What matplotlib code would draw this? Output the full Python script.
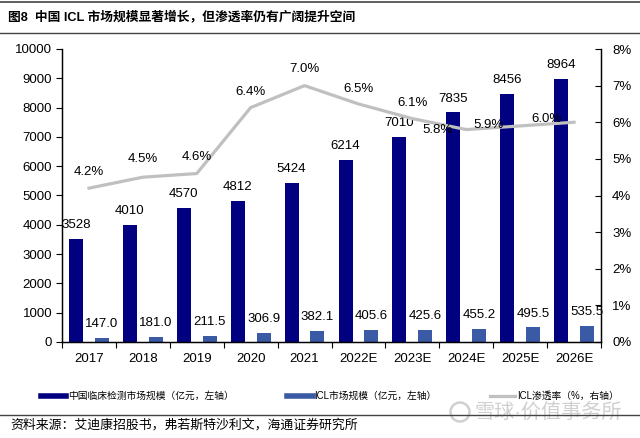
import matplotlib
matplotlib.use("Agg")
import matplotlib.pyplot as plt
from matplotlib.lines import Line2D
from matplotlib.patches import Ellipse
import numpy as np

plt.rcParams['font.family'] = ['Liberation Sans', 'Noto Sans CJK SC', 'DejaVu Sans']

years = ['2017', '2018', '2019', '2020', '2021', '2022E', '2023E', '2024E', '2025E', '2026E']
china_market = [3528, 4010, 4570, 4812, 5424, 6214, 7010, 7835, 8456, 8964]
icl_market = [147.0, 181.0, 211.5, 306.9, 382.1, 405.6, 425.6, 455.2, 495.5, 535.5]
icl_rate = [4.2, 4.5, 4.6, 6.4, 7.0, 6.5, 6.1, 5.8, 5.9, 6.0]

series_names = ['中国临床检测市场规模（亿元，左轴）', 'ICL市场规模（亿元，左轴）', 'ICL渗透率（%，右轴）']
title = '图8  中国 ICL 市场规模显著增长，但渗透率仍有广阔提升空间'
source = '资料来源：艾迪康招股书，弗若斯特沙利文，海通证券研究所'
watermark = '雪球·价值事务所'

c_dark = '#000080'
c_blue = '#3A5AA6'
c_gray = '#C0C0C0'

fig = plt.figure(figsize=(6.4, 4.38), dpi=100)
ax = fig.add_axes([62/640, 1-342/438, (601-62)/640, (342-49)/438])
ax2 = ax.twinx()

x = np.arange(len(years))
w = 0.26
off = 0.24
ax.bar(x - off, china_market, w, color=c_dark, zorder=2)
ax.bar(x + off, icl_market, w, color=c_blue, zorder=2)

for xi, v in zip(x, china_market):
    ax.annotate(f'{v}', (xi - off, v), xytext=(0, 10), textcoords='offset points',
                ha='center', va='center', fontsize=9.5, zorder=5)
for xi, v in zip(x, icl_market):
    ax.annotate(f'{v:.1f}', (xi + off, v), xytext=(0, 10), textcoords='offset points',
                ha='center', va='center', fontsize=9.5, zorder=5)

ax2.plot(x, icl_rate, color=c_gray, lw=2.3, zorder=3)
rate_offsets = [(0, 12), (0, 13), (0, 12), (0, 11), (0, 12), (0, 11), (0, 11), (-21, 0), (-23, 1), (-20, 2)]
for xi, v, o in zip(x, icl_rate, rate_offsets):
    ax2.annotate(f'{v:.1f}%', (xi, v), xytext=o, textcoords='offset points',
                 ha='center', va='center', fontsize=9.5, zorder=6)

ax.set_xlim(-0.5, len(years) - 0.5)
ax.set_ylim(0, 10000)
ax2.set_ylim(0, 8)
ax.set_yticks(np.arange(0, 10001, 1000))
ax2.set_yticks(np.arange(0, 9, 1))
ax2.set_yticklabels([f'{i}%' for i in range(9)])

ax.set_xticks(x)
ax.set_xticklabels(years, fontsize=9.5)
ax.set_xticks(np.arange(-0.5, len(years), 1), minor=True)
ax.tick_params(axis='x', which='major', length=0, pad=8)
ax.tick_params(axis='x', which='minor', length=4, direction='out', width=0.8)
ax.tick_params(axis='y', length=4, direction='out', width=0.8, labelsize=9.5, pad=3)
ax2.tick_params(axis='y', length=4, direction='in', width=0.8, labelsize=9.5, pad=8)

for a in (ax, ax2):
    a.spines['top'].set_visible(False)
    for s in ('left', 'right', 'bottom'):
        a.spines[s].set_linewidth(0.9)
        a.spines[s].set_color('black')
ax2.set_zorder(ax.get_zorder() + 1)
ax2.patch.set_visible(False)

# Title and rules
fig.text(8/640, 1-17/438, title, fontsize=9.2, fontweight='bold', ha='left', va='center')
fig.add_artist(Line2D([0, 1], [1-1.5/438, 1-1.5/438], color='#444444', lw=1.2))
fig.add_artist(Line2D([0, 1], [1-33/438, 1-33/438], color='#444444', lw=1.0))

# Watermark (behind the rule)
fig.add_artist(Ellipse((460/640, 1-412/438), 19/640, 19/438, transform=fig.transFigure,
                       fill=False, edgecolor='#d0d0d0', lw=1.8, zorder=0))
fig.text(474/640, 1-412/438, watermark, fontsize=14.5, color='#d0d0d0', ha='left', va='center', zorder=0)

fig.add_artist(Line2D([0, 1], [1-415/438, 1-415/438], color='#444444', lw=1.0, zorder=1))

# Legend
handles = [Line2D([], [], color=c_dark, lw=4),
           Line2D([], [], color=c_blue, lw=4),
           Line2D([], [], color=c_gray, lw=2.3)]
fig.legend(handles, series_names, loc='center', bbox_to_anchor=(0.5 + 10/640, 1-396/438), ncol=3,
           frameon=False, fontsize=7, handlelength=2.6, handletextpad=0.2, columnspacing=5.5)

fig.text(10/640, 1-425/438, source, fontsize=9.3, ha='left', va='center')

fig.savefig('out.png', dpi=100)
